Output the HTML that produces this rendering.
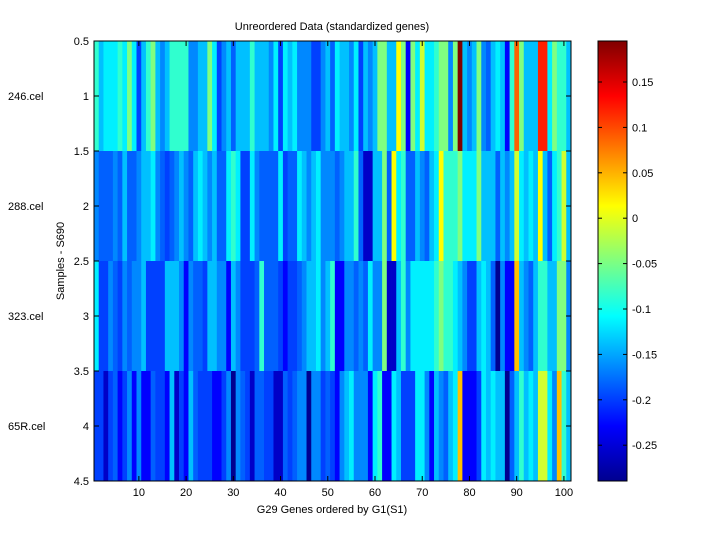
<!DOCTYPE html>
<html><head><meta charset="utf-8"><style>
body{margin:0;background:#fff;width:720px;height:540px;overflow:hidden}
svg{font-family:"Liberation Sans",sans-serif;font-size:11px}
</style></head><body>
<svg id="s" width="720" height="540" xmlns="http://www.w3.org/2000/svg">
<defs><linearGradient id="jet" x1="0" y1="1" x2="0" y2="0">
<stop offset="0" stop-color="#00008f"/><stop offset="0.125" stop-color="#0000ff"/>
<stop offset="0.375" stop-color="#00ffff"/><stop offset="0.625" stop-color="#ffff00"/>
<stop offset="0.875" stop-color="#ff0000"/><stop offset="1" stop-color="#800000"/>
</linearGradient></defs>
<g id="hm"></g>
<rect x="94" y="41" width="477" height="440" fill="none" stroke="#000" stroke-width="1"/>
<rect x="598" y="41" width="29" height="440" fill="url(#jet)" stroke="#000"/>
<g id="ax"></g>
<text x="332" y="30" text-anchor="middle">Unreordered Data (standardized genes)</text>
<text x="332" y="513" text-anchor="middle">G29 Genes ordered by G1(S1)</text>
<text transform="translate(64,261) rotate(-90)" text-anchor="middle">Samples - S690</text>
<text x="8" y="100">246.cel</text><text x="8" y="210">288.cel</text>
<text x="8" y="320">323.cel</text><text x="8" y="430">65R.cel</text>
</svg>
<script>
var C={a:"#000090",b:"#0000c8",c:"#0000ff",d:"#0040ff",e:"#0060ff",f:"#0088ff",g:"#00c0ff",h:"#00f0ff",i:"#30ffcf",j:"#80ff80",k:"#d0ff30",l:"#ffff00",m:"#ffc000",n:"#ff6000",o:"#ff2000",p:"#800000"};
var R=[
"ighhhihjhdgijgfgiiiiffggjhdfgegggi"+"gggfhdhghfffddfgehggfhdgfgjjggljcj"+"hkhhijjfjpgfgjfeghgcinjgggoohjiig",
"feeefegeefgghfedefgfeghgfgeehihddh"+"feeeehdeehgfghfffefggiebbggjelhiee"+"gfeghliiijhhhjgggegfgkhghglgehikg",
"hddfedfeffgddddgggfcfeedggffcgfddd"+"eieeedcddefgghfgiccffefehffjbbgifh"+"hhhhijiihgfddghgeafccmgfegiiggjjf",
"ddbdecdfcfcceddcgbdcgedddccdfafedbd".slice(0,34)+"eeddbbedeffaffdedcfghfffchicchgddd"+"hhfcgfeghmcccdhghggaegighgkkhfmig"];
var hm="",w=477/101;
for(var r=0;r<4;r++){var s=R[r];for(var c=0;c<101;c++){var ch=s[c]||"g";
hm+='<rect x="'+(94+c*w).toFixed(2)+'" y="'+(41+r*110)+'" width="'+(w+0.4).toFixed(2)+'" height="110" fill="'+C[ch]+'"/>';}}
document.getElementById("hm").innerHTML=hm;
var ax="";
var yl=["0.5","1","1.5","2","2.5","3","3.5","4","4.5"];
for(var i=0;i<9;i++){var y=41+i*55;
ax+='<line x1="94" y1="'+y+'" x2="99" y2="'+y+'" stroke="#000"/><line x1="571" y1="'+y+'" x2="566" y2="'+y+'" stroke="#000"/>';
ax+='<text x="89" y="'+(y+4)+'" text-anchor="end">'+yl[i]+'</text>';}
for(var v=10;v<=100;v+=10){var x=94+(v-0.5)*w;
ax+='<line x1="'+x+'" y1="481" x2="'+x+'" y2="476" stroke="#000"/><line x1="'+x+'" y1="41" x2="'+x+'" y2="46" stroke="#000"/>';
ax+='<text x="'+x+'" y="496" text-anchor="middle">'+v+'</text>';}
var cl=["0.15","0.1","0.05","0","-0.05","-0.1","-0.15","-0.2","-0.25"];
for(var i=0;i<9;i++){var y=82+i*45.4;
ax+='<line x1="598" y1="'+y+'" x2="602" y2="'+y+'" stroke="#000"/><line x1="627" y1="'+y+'" x2="623" y2="'+y+'" stroke="#000"/>';
ax+='<text x="632" y="'+(y+4)+'">'+cl[i]+'</text>';}
document.getElementById("ax").innerHTML=ax;
</script>
</body></html>
